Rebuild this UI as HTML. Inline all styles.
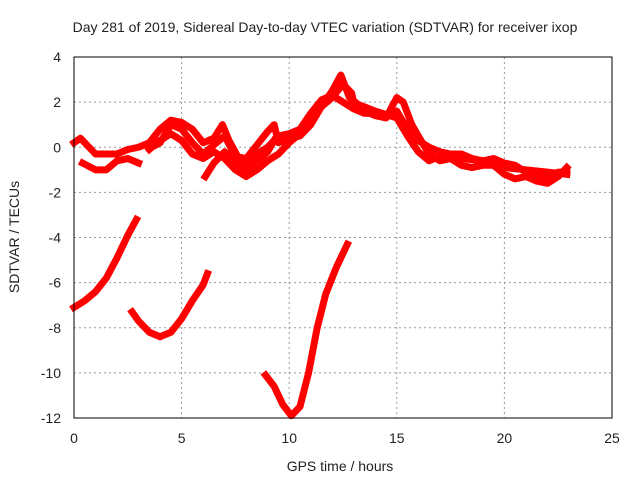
<!DOCTYPE html>
<html><head><meta charset="utf-8"><style>
body{margin:0;background:#fff;}
svg text{font-family:"Liberation Sans",sans-serif;fill:#222;}
</style></head><body>
<svg id="chart" width="640" height="480" viewBox="0 0 640 480" xmlns="http://www.w3.org/2000/svg">
<text x="325" y="32" font-size="14" text-anchor="middle">Day 281 of 2019, Sidereal Day-to-day VTEC variation (SDTVAR) for receiver ixop</text>
<text x="340" y="471" font-size="14" text-anchor="middle">GPS time / hours</text>
<text x="19" y="237" font-size="14" text-anchor="middle" transform="rotate(-90 19 237)">SDTVAR / TECUs</text>
<g id="grid"></g>
<g id="ticks"></g>
<g id="series"></g>
<rect x="74" y="57" width="538" height="361" fill="none" stroke="#000" stroke-width="1"/>
</svg>
<script>
const xTicks=[0,5,10,15,20,25];
const yTicks=[4,2,0,-2,-4,-6,-8,-10,-12];
const seriesA=[[0,-7.1],[0.5,-6.8],[1,-6.4],[1.5,-5.8],[2,-4.9],[2.5,-3.9],[2.9,-3.2]];
const seriesB=[[2.7,-7.3],[3,-7.7],[3.5,-8.2],[4,-8.4],[4.5,-8.2],[5,-7.6],[5.5,-6.8],[6,-6.1],[6.2,-5.6]];
const seriesC=[[8.9,-10.1],[9.3,-10.6],[9.7,-11.4],[10.1,-11.9],[10.5,-11.5],[10.9,-10],[11.3,-8],[11.7,-6.5],[12.2,-5.3],[12.7,-4.3]];
const seriesD=[[0,0.2],[0.3,0.4],[0.6,0.1],[1,-0.3],[1.5,-0.3],[2,-0.3],[2.5,-0.1],[3,0],[3.5,0.2],[4,0.8],[4.5,1.2],[5,1.1],[5.5,0.8],[6,0.2],[6.5,0.4],[6.9,1],[7.2,0.3],[7.6,-0.4],[8,-0.8],[8.5,-0.3],[9,0],[9.5,0.5],[10,0.6],[10.5,0.8],[11,1.5],[11.5,2.1],[12,2.3],[12.5,2],[13,1.7],[13.5,1.5],[14,1.5],[14.5,1.4],[15,1.6],[15.5,0.8],[16,0.3],[16.5,0],[17,-0.2],[17.5,-0.3],[18,-0.3],[18.5,-0.5],[19,-0.6],[19.5,-0.5],[20,-0.7],[20.5,-0.8],[21,-1.1],[21.5,-1.2],[22,-1.3],[22.5,-1.1],[22.9,-1.1]];
const seriesE=[[0.4,-0.7],[1,-1],[1.5,-1],[2,-0.6],[2.5,-0.5],[3,-0.7]];
const seriesF=[[3.5,-0.1],[4,0.3],[4.5,0.6],[5,0.3],[5.5,-0.3],[6,-0.5],[6.5,-0.2],[7,-0.5],[7.5,-1],[8,-1.3],[8.5,-1],[9,-0.6],[9.5,-0.3],[10,0.2],[10.5,0.6],[11,1.2],[11.5,1.8],[12,2.2],[12.5,2.8],[12.9,2.4],[13,2],[13.5,1.6],[14,1.4],[14.5,1.3],[15,2.2],[15.3,2],[15.7,1],[16,0.5],[16.5,-0.3],[17,-0.6],[17.5,-0.5],[18,-0.8],[18.5,-0.9],[19,-0.8],[19.5,-0.8],[20,-1.2],[20.5,-1.4],[21,-1.3],[21.5,-1.5],[22,-1.6],[22.5,-1.3],[22.9,-0.9]];
const seriesG=[[3.6,0],[4,0.2],[4.5,1],[5,0.8],[5.5,0.2],[6,-0.3],[6.5,0.1],[7,0.5],[7.5,-0.4],[8,-0.5],[8.5,0.1],[9,0.7],[9.3,1],[9.5,0.2],[10,0.4],[10.5,0.5],[11,1],[11.5,1.8],[12,2.5],[12.4,3.2],[12.8,2.2],[13.2,1.9],[14,1.6],[15,1.3],[15.5,0.5],[16,-0.2],[16.5,-0.6],[17,-0.4],[18,-0.5],[19,-0.6],[20,-0.9],[21,-1],[22,-1.1],[22.9,-1.2]];
const seriesH=[[6.1,-1.3],[6.5,-0.7],[7,-0.2],[7.5,-0.6],[8,-1],[8.5,-0.6],[9,-0.2],[9.3,0.3]];

const NS="http://www.w3.org/2000/svg";
function xs(v){return 74+v*538/25;}
function ys(v){return 57+(4-v)*361/16;}
const grid=document.getElementById('grid'),ticks=document.getElementById('ticks'),ser=document.getElementById('series');
xTicks.forEach(t=>{
  const l=document.createElementNS(NS,'line');
  
  
  l.setAttribute('x1',xs(t));l.setAttribute('x2',xs(t));l.setAttribute('y1',57);l.setAttribute('y2',418);
  l.setAttribute('stroke','#999');l.setAttribute('stroke-dasharray','2,3');
  grid.appendChild(l);
  const tx=document.createElementNS(NS,'text');
  
  
  tx.setAttribute('x',xs(t));tx.setAttribute('y',443);tx.setAttribute('font-size','14');tx.setAttribute('text-anchor','middle');
  tx.textContent=t;ticks.appendChild(tx);
});
yTicks.forEach(t=>{
  const l=document.createElementNS(NS,'line');
  
  
  l.setAttribute('x1',74);l.setAttribute('x2',612);l.setAttribute('y1',ys(t));l.setAttribute('y2',ys(t));
  l.setAttribute('stroke','#999');l.setAttribute('stroke-dasharray','2,3');
  grid.appendChild(l);
  const tx=document.createElementNS(NS,'text');
  
  
  tx.setAttribute('x',61);tx.setAttribute('y',ys(t)+5);tx.setAttribute('font-size','14');tx.setAttribute('text-anchor','end');
  tx.textContent=t;ticks.appendChild(tx);
});
[seriesA,seriesB,seriesC,seriesD,seriesE,seriesF,seriesG,seriesH].forEach(s=>{
  const p=document.createElementNS(NS,'polyline');
  
  
  p.setAttribute('points',s.map(d=>xs(d[0])+','+ys(d[1])).join(' '));
  p.setAttribute('fill','none');p.setAttribute('stroke','#f00');p.setAttribute('stroke-width','7');
  p.setAttribute('stroke-linejoin','round');p.setAttribute('stroke-linecap','square');
  ser.appendChild(p);
});
</script>
</body></html>
